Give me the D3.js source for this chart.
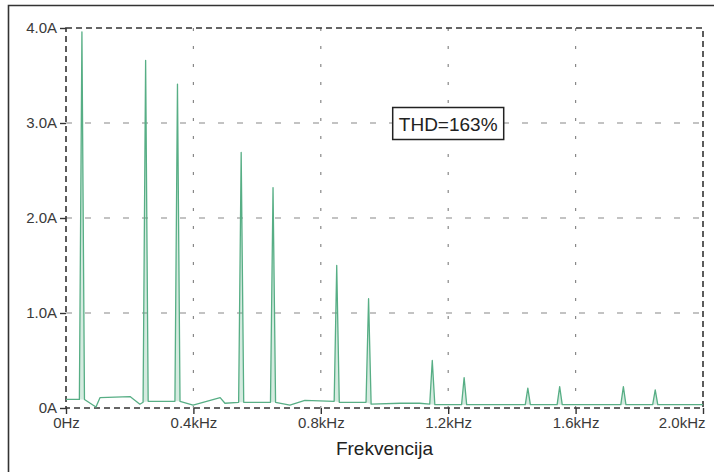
<!DOCTYPE html>
<html>
<head>
<meta charset="utf-8">
<script src="https://cdn.jsdelivr.net/npm/d3@7"></script>
<style>
body { margin: 0; background: #fff; }
text { font-family: "Liberation Sans", Arial, sans-serif; }
</style>
</head>
<body>
<div id="chart"></div>
<script>
// harmonics of 50 Hz (6k +/- 1)
var harmonicFreqs = [50, 250, 350, 550, 650, 850, 950, 1150, 1250, 1450, 1550, 1750, 1850];
var harmonicAmps  = [3.96, 3.66, 3.41, 2.69, 2.32, 1.50, 1.15, 0.50, 0.32, 0.21, 0.225, 0.225, 0.19];

// low level floor between the peaks
var floorFreqs = [0, 42, 58, 94, 107, 201, 232, 242, 258, 342, 358, 399, 484, 499, 542, 558, 642, 658,
                  703, 750, 842, 858, 942, 958, 1050, 1110, 1142, 1158, 1242, 1258, 1442, 1458,
                  1542, 1558, 1742, 1758, 1842, 1858, 2000];
var floorAmps  = [0.09, 0.09, 0.09, 0.01, 0.11, 0.12, 0.04, 0.06, 0.07, 0.07, 0.07, 0.03, 0.11, 0.05, 0.06, 0.06, 0.06, 0.06,
                  0.03, 0.08, 0.07, 0.06, 0.06, 0.04, 0.05, 0.05, 0.04, 0.035, 0.035, 0.035, 0.035, 0.035,
                  0.035, 0.035, 0.035, 0.035, 0.035, 0.035, 0.035];

var xTicks = [0, 400, 800, 1200, 1600, 2000];
var xTickLabels = ["0Hz", "0.4kHz", "0.8kHz", "1.2kHz", "1.6kHz", "2.0kHz"];
var yTicks = [0, 1, 2, 3, 4];
var yTickLabels = ["0A", "1.0A", "2.0A", "3.0A", "4.0A"];
var xTitle = "Frekvencija";
var thdText = "THD=163%";

var W = 714, H = 472,
    marginLeft = 66, marginTop = 28,
    width = 637, height = 380,
    green = "#57ae85";

var svg = d3.select("#chart")
    .append("svg")
    .attr("width", W)
    .attr("height", H);

// outer frame (top + left edges visible)
svg.append("path")
    .attr("d", "M8.5," + H + "V5.5H" + W)
    .attr("fill", "none")
    .attr("stroke", "#333")
    .attr("stroke-width", 1.6);

var g = svg.append("g")
    .attr("transform", "translate(" + marginLeft + "," + marginTop + ")");

var x = d3.scaleLinear().domain([0, 2000]).range([0, width]),
    y = d3.scaleLinear().domain([0, 4]).range([height, 0]);

// grid
g.append("g").selectAll("line")
    .data(xTicks.slice(1, -1))
    .join("line")
    .attr("x1", d => x(d)).attr("x2", d => x(d))
    .attr("y1", 0).attr("y2", height)
    .attr("stroke", "#888")
    .attr("stroke-width", 1.2)
    .attr("stroke-dasharray", "3,15");

g.append("g").selectAll("line")
    .data(yTicks.slice(1, -1))
    .join("line")
    .attr("x1", 0).attr("x2", width)
    .attr("y1", d => y(d)).attr("y2", d => y(d))
    .attr("stroke", "#888")
    .attr("stroke-width", 1.2)
    .attr("stroke-dasharray", "6,13");

// dashed plot border
g.append("rect")
    .attr("x", 0).attr("y", 0)
    .attr("width", width).attr("height", height)
    .attr("fill", "none")
    .attr("stroke", "#333")
    .attr("stroke-width", 1.6)
    .attr("stroke-dasharray", "6,4");

// spectrum points: floor + peaks
var pts = floorFreqs.map((f, i) => [f, floorAmps[i]]);
harmonicFreqs.forEach((f, i) => pts.push([f, harmonicAmps[i]]));
pts.sort((a, b) => a[0] - b[0]);

var line = d3.line()
    .x(d => x(d[0]))
    .y(d => y(d[1]));

// light fill inside each peak
var peakPolys = harmonicFreqs.map(f => {
    var i = pts.findIndex(p => p[0] === f);
    return [pts[i - 1], pts[i], pts[i + 1]];
});

g.append("g").selectAll("path")
    .data(peakPolys)
    .join("path")
    .attr("d", d => line(d) + "Z")
    .attr("fill", green)
    .attr("fill-opacity", 0.25)
    .attr("stroke", "none");

g.append("path")
    .datum(pts)
    .attr("d", line)
    .attr("fill", "none")
    .attr("stroke", green)
    .attr("stroke-width", 1.3)
    .attr("stroke-linejoin", "round");

// axes
var xAxis = d3.axisBottom(x)
    .tickValues(xTicks)
    .tickFormat((d, i) => xTickLabels[i])
    .tickSize(6)
    .tickPadding(3);

var gx = g.append("g")
    .attr("transform", "translate(0," + height + ")")
    .call(xAxis);
gx.select(".domain").remove();
gx.selectAll("line").attr("stroke", "#333").attr("stroke-width", 1.4);
gx.selectAll("text")
    .attr("fill", "#3a3a3a")
    .style("font-size", "15px")
    .style("font-family", "'Liberation Sans', Arial, sans-serif");
gx.selectAll(".tick:last-child text").attr("text-anchor", "end").attr("dx", 2);

var yAxis = d3.axisLeft(y)
    .tickValues(yTicks)
    .tickFormat((d, i) => yTickLabels[i])
    .tickSize(6)
    .tickPadding(3);

var gy = g.append("g").call(yAxis);
gy.select(".domain").remove();
gy.selectAll("line").attr("stroke", "#333").attr("stroke-width", 1.4);
gy.selectAll("text")
    .attr("fill", "#3a3a3a")
    .style("font-size", "15px")
    .style("font-family", "'Liberation Sans', Arial, sans-serif");

// axis title
g.append("text")
    .attr("x", width / 2)
    .attr("y", height + 47)
    .attr("text-anchor", "middle")
    .attr("fill", "#222")
    .style("font-size", "19px")
    .text(xTitle);

// THD annotation
var thd = g.append("g")
    .attr("transform", "translate(" + x(1200) + "," + y(3.0) + ")");
thd.append("rect")
    .attr("x", -55.5).attr("y", -15.5)
    .attr("width", 111).attr("height", 32)
    .attr("fill", "#fff")
    .attr("stroke", "#222")
    .attr("stroke-width", 1.5);
thd.append("text")
    .attr("text-anchor", "middle")
    .attr("y", 7.5)
    .attr("fill", "#222")
    .style("font-size", "19px")
    .text(thdText);
</script>
</body>
</html>
